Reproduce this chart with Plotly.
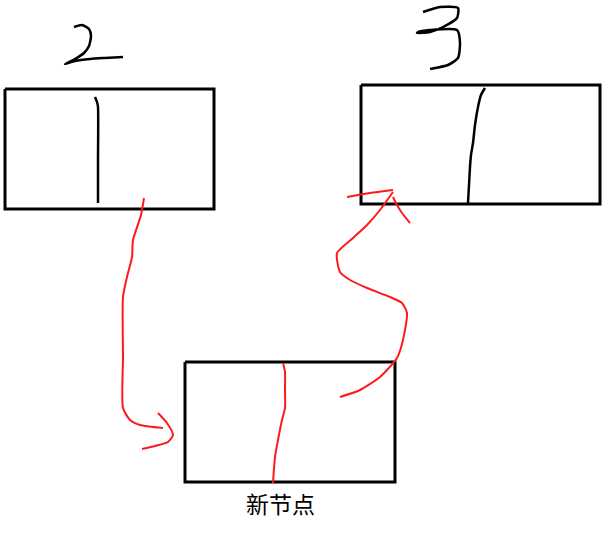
import plotly.graph_objects as go

# hand-drawn linked list sketch, coordinates in picture pixels (y downward)

# node boxes: left, top, right, bottom
box_node2 = [5, 89, 214, 209]
box_node3 = [361, 85, 600, 204]
box_new = [185, 362, 395, 482]

# divider strokes inside boxes
div_node2_x = [95, 97, 98, 98, 98]
div_node2_y = [97, 102, 107, 160, 203]
div_node3_x = [485, 481, 478, 475, 473, 471, 470, 469, 468]
div_node3_y = [88, 95, 107, 125, 143, 155, 167, 185, 203]
div_new_x = [283, 285, 285, 285, 282, 278, 275, 273]
div_new_y = [363, 372, 390, 408, 420, 440, 457, 483]

# handwritten digits
digit2_x = [74, 82, 89, 91, 89, 84, 75, 65, 75, 90, 105, 123]
digit2_y = [27, 25, 29, 36, 46, 53, 59, 64, 61, 59, 58, 57]
digit3_x = [423, 440, 458, 457, 443, 430, 417, 418, 430, 457, 460, 458, 448, 430]
digit3_y = [12, 7, 8, 18, 27, 32, 33, 32, 30, 30, 43, 58, 65, 69]

# red arrow: node 2 -> new node
arrow1_x = [144, 141, 133, 132, 127, 123, 123, 123, 130, 140, 163]
arrow1_y = [198, 215, 240, 257, 277, 297, 357, 408, 420, 425, 428]
head1_x = [158, 167, 173, 168, 155, 142]
head1_y = [413, 423, 435, 442, 446, 449]

# red arrow: new node -> node 3
arrow2_x = [340, 360, 380, 397, 403, 407, 402, 390, 367, 350, 340, 337, 353, 367, 380, 393]
arrow2_y = [397, 390, 377, 358, 340, 313, 303, 297, 288, 280, 272, 253, 238, 225, 210, 192]
head2a_x = [347, 370, 393]
head2a_y = [197, 193, 190]
head2b_x = [393, 397, 402, 410]
head2b_y = [197, 205, 213, 223]

label_text = "新节点"
label_pos = [280, 503]

fig = go.Figure()


def add_stroke(xs, ys, color, width):
    fig.add_trace(go.Scatter(x=xs, y=ys, mode='lines', hoverinfo='skip',
                             line=dict(color=color, width=width, shape='spline', smoothing=0.6)))


def add_box(b):
    l, t, r, btm = b
    fig.add_trace(go.Scatter(x=[l, r, r, l, l], y=[t, t, btm, btm, t], mode='lines',
                             hoverinfo='skip', line=dict(color='black', width=3)))


for b in [box_node2, box_node3, box_new]:
    add_box(b)

add_stroke(div_node2_x, div_node2_y, 'black', 2.5)
add_stroke(div_node3_x, div_node3_y, 'black', 2.5)
add_stroke(digit2_x, digit2_y, 'black', 2.5)
add_stroke(digit3_x, digit3_y, 'black', 2.5)

red = '#ff1a1a'
add_stroke(div_new_x, div_new_y, red, 2)
add_stroke(arrow1_x, arrow1_y, red, 2)
add_stroke(head1_x, head1_y, red, 2)
add_stroke(arrow2_x, arrow2_y, red, 2)
add_stroke(head2a_x, head2a_y, red, 2)
add_stroke(head2b_x, head2b_y, red, 2)

fig.add_annotation(x=label_pos[0], y=label_pos[1], text=label_text, showarrow=False,
                   font=dict(family='Noto Sans CJK SC', size=23, color='black'))

fig.update_layout(
    width=608, height=533,
    margin=dict(l=0, r=0, t=0, b=0),
    plot_bgcolor='white', paper_bgcolor='white',
    showlegend=False,
    xaxis=dict(range=[0, 608], visible=False, fixedrange=True),
    yaxis=dict(range=[533, 0], visible=False, fixedrange=True),
)

# drop the default 8px body margin so figure pixels line up with the window
fig.write_html("out.html", config={'displayModeBar': False},
               post_script="document.body.style.margin='0px';")
